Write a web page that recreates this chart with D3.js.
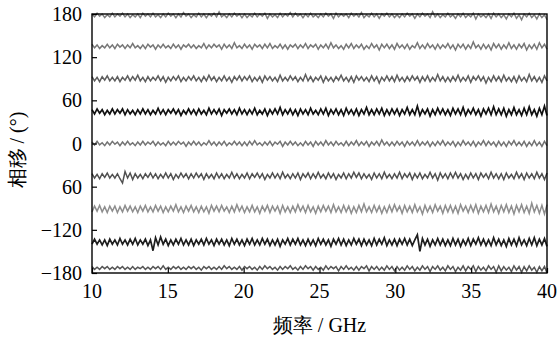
<!DOCTYPE html>
<html>
<head>
<meta charset="utf-8">
<script src="https://cdn.jsdelivr.net/npm/d3@7"></script>
</head>
<body style="margin:0;background:#fff">
<div id="chart"></div>
<script>
// frequency range, GHz
const freqRange = [10, 40];
const xTicks = [10, 15, 20, 25, 30, 35, 40];
const yTicks = [180, 120, 60, 0, -60, -120, -180];
const yTickLabels = ['180', '120', '60', '0', '60', '\u2212120', '\u2212180'];

// each trace: nominal phase shift plus its measured ripple (degrees)
const levels = [178, 135, 90, 44, 0, -45, -91, -137, -173];
const colors = ['#7f7f7f', '#777777', '#5e5e5e', '#111111', '#747474', '#505050', '#8e8e8e', '#1e1e1e', '#555555'];

const ripple180 = [
  2,-2,3,-1,2,-3,1,-2,3,-2,2,-1,3,-2,2,-3,1,-2,2,-3,
  3,-1,2,-2,3,-2,1,-3,2,-2,3,-1,2,-3,2,-2,4,-1,2,-3,
  1,-2,3,-2,2,-3,2,-1,3,-2,5,-2,1,-3,2,-2,3,-1,2,-3,
  2,-3,1,-2,3,-2,2,-1,3,-4,2,-2,1,-3,3,-2,2,-1,4,-2,
  3,-1,2,-3,2,-2,3,-2,1,-3,2,-2,3,-1,2,-4,3,-2,2,-1,
  2,-3,3,-1,2,-2,4,-3,1,-2,3,-2,2,-4,2,-1,3,-2,2,-3,
  1,-3,2,-2,3,-1,2,-4,2,-2,3,-1,2,-3,5,-2,2,-3,1,-2,
  3,-2,1,-4,2,-2,3,-3,1,-2,3,-5,2,-2,1,-3,2,-4,3,-2,
  2,-3,1,-5,2,-2,3,-4,1,-6,2,-2,3,-3,1,-5,2,-3,1,-6];
const ripple135 = [
  3,-2,2,-3,1,-2,3,-2,2,-3,3,-1,2,-3,2,-2,4,-2,1,-3,
  2,-3,3,-1,2,-4,2,-2,3,-2,1,-3,3,-2,2,-4,2,-1,3,-2,
  2,-3,1,-2,4,-3,2,-2,3,-1,2,-4,3,-2,2,-3,5,-2,1,-3,
  3,-2,2,-4,3,-1,2,-3,3,-2,4,-3,1,-2,3,-3,2,-4,2,-1,
  3,-3,2,-2,4,-3,2,-1,3,-4,2,-2,3,-3,5,-2,2,-3,1,-4,
  3,-2,4,-3,2,-2,3,-4,1,-3,4,-2,2,-5,3,-2,3,-3,2,-4,
  4,-2,2,-3,3,-4,1,-2,5,-3,2,-3,4,-2,2,-4,3,-3,2,-2,
  4,-3,2,-5,3,-2,3,-4,2,-3,6,-2,2,-4,3,-3,2,-5,4,-2,
  3,-4,2,-3,5,-3,2,-4,3,-2,4,-5,2,-3,3,-4,5,-2,3,-4];
const ripple90 = [
  3,-3,2,-4,3,-2,4,-3,2,-3,3,-4,2,-2,4,-3,3,-2,5,-3,
  2,-4,3,-3,2,-2,4,-3,3,-5,2,-3,3,-2,4,-4,2,-3,3,-2,
  4,-3,2,-4,3,-3,5,-2,3,-4,2,-3,4,-3,2,-5,3,-2,4,-3,
  3,-2,4,-4,2,-3,3,-5,4,-2,3,-3,2,-4,5,-3,2,-3,4,-2,
  3,-4,2,-3,6,-3,3,-4,2,-2,4,-5,3,-3,2,-4,3,-2,5,-3,
  2,-4,3,-5,4,-2,3,-3,2,-4,4,-3,3,-6,2,-3,4,-3,3,-4,
  5,-3,2,-4,3,-3,4,-2,3,-5,3,-3,4,-4,2,-3,6,-3,3,-4,
  2,-4,3,-3,5,-4,2,-3,4,-5,3,-2,4,-3,3,-6,2,-4,4,-3,
  3,-4,5,-3,2,-4,3,-5,4,-3,2,-4,6,-3,3,-4,2,-5,4,-3];
const ripple45 = [
  3,-3,4,-2,3,-4,2,-3,4,-3,3,-2,4,-4,3,-3,2,-4,3,-3,
  4,-3,3,-4,2,-3,5,-3,3,-4,3,-2,4,-3,3,-5,2,-3,4,-3,
  3,-4,4,-3,2,-4,5,-3,3,-3,4,-5,3,-2,4,-3,3,-4,5,-3,
  3,-4,3,-3,5,-4,2,-3,4,-5,3,-3,4,-3,6,-4,3,-3,4,-4,
  3,-5,4,-3,3,-4,5,-3,2,-4,4,-3,5,-5,3,-3,4,-4,3,-5,
  5,-3,3,-4,4,-5,3,-3,6,-4,3,-4,4,-3,5,-5,3,-4,4,-3,
  4,-5,3,-3,6,-4,3,-4,8,-5,3,-3,4,-6,3,-4,5,-3,4,-4,
  3,-5,5,-3,4,-4,6,-5,3,-3,5,-4,3,-6,4,-3,5,-4,7,-4,
  4,-4,5,-6,3,-4,6,-4,3,-5,5,-4,7,-4,3,-6,5,-4,8,-5];
const ripple0 = [
  2,-2,3,-2,1,-3,2,-2,3,-1,2,-3,2,-2,3,-2,1,-3,2,-2,
  3,-2,2,-1,3,-3,2,-2,1,-3,3,-2,2,-2,3,-1,2,-4,2,-2,
  3,-2,2,-3,1,-2,4,-2,2,-3,2,-2,3,-3,1,-2,3,-2,2,-3,
  2,-3,3,-2,4,-2,1,-3,2,-2,3,-3,2,-1,3,-4,2,-2,3,-2,
  2,-3,1,-3,3,-2,2,-4,3,-2,2,-3,4,-2,2,-3,3,-2,1,-3,
  3,-3,2,-2,4,-3,2,-2,3,-4,2,-2,3,-3,5,-2,2,-3,2,-3,
  3,-2,2,-4,3,-2,2,-3,4,-3,2,-2,3,-4,2,-3,3,-2,4,-3,
  2,-2,3,-4,2,-3,4,-2,2,-3,3,-4,2,-2,4,-3,3,-2,2,-4,
  3,-3,2,-4,3,-2,4,-3,2,-3,3,-4,2,-3,4,-3,2,-4,3,-3];
const rippleM45 = [
  3,-3,2,-4,3,-2,4,-3,2,-3,3,-4,-10,6,-3,4,-5,3,-3,2,
  -4,3,-2,4,-3,3,-4,2,-3,4,-3,3,-5,2,-3,4,-2,3,-4,3,
  -3,4,-2,3,-5,3,-3,2,-4,4,-3,3,-4,2,-3,5,-3,3,-4,2,
  -3,4,-4,3,-2,4,-3,3,-5,2,-3,4,-3,3,-4,5,-3,2,-4,3,
  -3,4,-5,3,-2,4,-4,3,-3,5,-3,2,-4,4,-3,3,-5,2,-3,4,
  -4,3,-3,5,-2,4,-4,3,-3,2,-5,4,-3,3,-4,5,-3,2,-4,3,
  -3,5,-4,3,-2,4,-5,3,-3,4,-4,2,-3,5,-3,3,-6,4,-3,3,
  -4,4,-3,5,-3,3,-5,2,-4,4,-3,3,-5,4,-2,3,-4,5,-3,3,
  -4,3,-5,4,-3,2,-4,5,-3,3,-5,4,-3,3,-4,5,-3,3,-5,4];
const rippleM90 = [
  -4,4,-3,5,-4,3,-5,4,-3,4,-5,3,-4,5,-3,4,-4,3,-5,4,
  -3,5,-4,3,-4,5,-3,4,-5,3,-4,4,-3,6,-4,3,-5,4,-3,5,
  -4,3,-5,4,-4,3,-6,5,-3,4,-4,5,-3,3,-5,4,-4,6,-3,4,
  -5,3,-4,5,-4,3,-6,4,-3,5,-5,4,-3,4,-6,5,-4,3,-5,4,
  -4,6,-3,4,-5,5,-4,3,-6,4,-4,5,-3,4,-5,6,-4,3,-5,5,
  -4,4,-6,3,-5,5,-4,7,-4,3,-5,5,-4,4,-6,3,-5,5,-4,6,
  -3,4,-6,5,-4,4,-5,6,-4,3,-7,5,-4,4,-5,6,-3,4,-6,5,
  -4,5,-5,4,-6,6,-3,4,-5,5,-4,6,-6,4,-4,5,-5,7,-4,4,
  -6,5,-4,6,-5,4,-7,5,-4,6,-5,4,-6,8,-4,5,-6,5,-7,6];
const rippleM135 = [
  -3,4,-3,3,-4,3,-5,4,-3,3,-4,5,-3,3,-4,4,-3,5,-4,3,
  -3,4,-5,3,-12,6,-4,7,-3,4,-5,3,-4,4,-3,5,-4,3,-4,4,
  -5,3,-3,4,-4,5,-3,3,-5,4,-3,4,-4,3,-5,5,-3,4,-4,3,
  -5,4,-3,5,-4,3,-4,5,-3,4,-5,3,-4,4,-6,3,-3,5,-4,4,
  -3,5,-4,3,-5,4,-4,3,-5,5,-3,4,-4,3,-6,4,-3,5,-4,4,
  -5,3,-4,5,-3,4,-5,4,-4,3,-5,5,-4,4,-3,6,-5,3,-4,4,
  -5,4,-3,5,-4,4,-5,3,10,-13,5,-4,4,-6,3,-4,5,-4,4,-5,
  3,-5,5,-4,4,-6,3,-4,5,-5,4,-3,6,-4,4,-5,3,-5,6,-4,
  4,-5,3,-6,5,-4,4,-5,6,-4,3,-5,5,-4,6,-5,4,-4,5,-6];
const rippleM180 = [
  2,-2,1,-2,2,-1,2,-2,1,-2,2,-1,2,-2,1,-2,2,-2,1,-1,
  2,-2,1,-2,2,-1,2,-2,3,-2,1,-2,2,-1,2,-2,1,-2,2,-1,
  2,-2,1,-3,2,-1,2,-2,1,-2,2,-2,3,-1,2,-2,1,-2,2,-3,
  2,-1,2,-2,1,-3,2,-2,3,-1,2,-2,1,-3,2,-2,2,-1,3,-2,
  1,-3,2,-2,3,-1,2,-3,2,-2,1,-3,3,-2,2,-1,2,-4,2,-2,
  3,-2,1,-3,2,-3,2,-1,3,-4,2,-2,2,-3,1,-3,3,-2,2,-4,
  2,-3,1,-3,3,-2,2,-4,1,-3,3,-2,2,-5,2,-2,3,-3,1,-4,
  3,-2,2,-5,1,-3,3,-4,2,-2,3,-5,2,-3,1,-4,3,-2,2,-6,
  3,-4,2,-3,1,-5,3,-3,2,-6,2,-4,3,-3,1,-6,2,-4,2,-7];

const ripples = [ripple180, ripple135, ripple90, ripple45, ripple0, rippleM45, rippleM90, rippleM135, rippleM180];

const width = 559;
const height = 341;
const margin = { top: 14, right: 12, bottom: 68, left: 92 };
const innerWidth = width - margin.left - margin.right;
const innerHeight = height - margin.top - margin.bottom;

const svg = d3.select('#chart').append('svg')
  .attr('width', width)
  .attr('height', height)
  .style('display', 'block');

const chart = svg.append('g')
  .attr('transform', `translate(${margin.left}, ${margin.top})`);

const x = d3.scaleLinear().domain(freqRange).range([0, innerWidth]);
const y = d3.scaleLinear().domain([-180, 180]).range([innerHeight, 0]);

const line = d3.line()
  .x((d) => x(d[0]))
  .y((d) => y(d[1]));

ripples.forEach((r, k) => {
  // sample index -> frequency
  const f = d3.scaleLinear().domain([0, r.length - 1]).range(freqRange);
  const pts = r.map((v, i) => [f(i), levels[k] + v]);
  chart.append('path')
    .datum(pts)
    .attr('fill', 'none')
    .attr('stroke', colors[k])
    .attr('stroke-width', k === 3 || k === 7 ? 1.7 : 1.5)
    .attr('d', line);
});

// tick marks only; labels are drawn as plain text below
const xAxis = d3.axisBottom(x).tickValues(xTicks).tickSizeInner(-5).tickSizeOuter(0).tickFormat('');
const yAxis = d3.axisLeft(y).tickValues(yTicks).tickSizeInner(-5).tickSizeOuter(0).tickFormat('');

function styleAxis(g) {
  g.select('.domain').remove();
  g.selectAll('line').attr('stroke', '#000').attr('stroke-width', 1.2);
  g.selectAll('text').remove();
}

chart.append('g')
  .attr('transform', `translate(0, ${innerHeight})`)
  .call(xAxis)
  .call(styleAxis);

chart.append('g')
  .call(yAxis)
  .call(styleAxis);

chart.append('rect')
  .attr('width', innerWidth)
  .attr('height', innerHeight)
  .attr('fill', 'none')
  .attr('stroke', '#000')
  .attr('stroke-width', 1.4);

// tick labels, positioned through the same scales
xTicks.forEach((t) => {
  svg.append('text')
    .attr('x', margin.left + x(t))
    .attr('y', margin.top + innerHeight + 25)
    .attr('text-anchor', 'middle')
    .attr('font-family', 'Liberation Serif')
    .attr('font-size', 20)
    .text(t);
});

yTicks.forEach((t, i) => {
  svg.append('text')
    .attr('x', margin.left - 10)
    .attr('y', margin.top + y(t) + 7)
    .attr('text-anchor', 'end')
    .attr('font-family', 'Liberation Serif')
    .attr('font-size', 20)
    .text(yTickLabels[i]);
});

svg.append('text')
  .attr('x', margin.left + innerWidth / 2)
  .attr('y', 332)
  .attr('text-anchor', 'middle')
  .attr('font-family', 'Liberation Serif')
  .attr('font-size', 20)
  .text('频率 / GHz');

svg.append('text')
  .attr('transform', 'translate(24, 150) rotate(-90)')
  .attr('text-anchor', 'middle')
  .attr('font-family', 'Liberation Serif')
  .attr('font-size', 20)
  .text('相移 / (°)');
</script>
</body>
</html>
